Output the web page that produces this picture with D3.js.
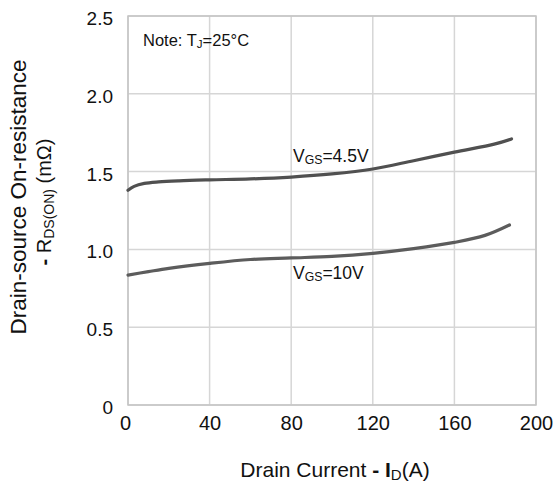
<!DOCTYPE html>
<html>
<head>
<meta charset="utf-8">
<script src="https://cdn.jsdelivr.net/npm/d3@7"></script>
<style>
  body { margin: 0; background: #fff; }
  text { font-family: "Liberation Sans", Arial, sans-serif; fill: #111; }
</style>
</head>
<body>
<div class="chart-container"></div>
<script>
const width = 556;
const height = 486;
const margin = {top: 16, right: 20, bottom: 81, left: 128};

// Drain current (A) vs on-resistance (mOhm)
const currentVgs45 = [0, 3, 8, 15, 25, 40, 60, 80, 100, 120, 140, 160, 180, 188];
const rdsVgs45 = [1.38, 1.405, 1.424, 1.434, 1.441, 1.447, 1.453, 1.465, 1.485, 1.517, 1.57, 1.625, 1.678, 1.71];
const currentVgs10 = [0, 10, 20, 40, 60, 80, 100, 120, 140, 160, 175, 187];
const rdsVgs10 = [0.835, 0.857, 0.878, 0.91, 0.935, 0.945, 0.955, 0.975, 1.005, 1.045, 1.09, 1.157];
const xTicks = [0, 40, 80, 120, 160, 200];
const yTicks = [0, 0.5, 1.0, 1.5, 2.0, 2.5];

const svg = d3.select('.chart-container')
  .append('svg')
  .attr('width', width)
  .attr('height', height);

const x = d3.scaleLinear()
  .domain([0, 200])
  .range([margin.left, width - margin.right]);

const y = d3.scaleLinear()
  .domain([0, 2.5])
  .range([height - margin.bottom, margin.top]);

// Grid lines
svg.append('g')
  .selectAll('line')
  .data(xTicks)
  .enter()
  .append('line')
  .attr('x1', d => x(d)).attr('x2', d => x(d))
  .attr('y1', y(0)).attr('y2', y(2.5))
  .attr('stroke', '#d6d6d6')
  .attr('stroke-width', 1.5);

svg.append('g')
  .selectAll('line')
  .data(yTicks)
  .enter()
  .append('line')
  .attr('x1', x(0)).attr('x2', x(200))
  .attr('y1', d => y(d)).attr('y2', d => y(d))
  .attr('stroke', '#d6d6d6')
  .attr('stroke-width', 1.5);

// Frame
svg.append('rect')
  .attr('x', x(0)).attr('y', y(2.5))
  .attr('width', x(200) - x(0))
  .attr('height', y(0) - y(2.5))
  .attr('fill', 'none')
  .attr('stroke', '#c4c4c4')
  .attr('stroke-width', 1.5);

// Axes (labels only)
const xAxis = svg.append('g')
  .attr('transform', `translate(0,${y(0)})`)
  .call(d3.axisBottom(x).tickValues(xTicks).tickSize(0).tickPadding(11).tickFormat(d3.format('d')));
xAxis.select('.domain').remove();
xAxis.selectAll('text').attr('font-size', 20).attr('font-family', '"Liberation Sans", Arial, sans-serif').attr('fill', '#111');
xAxis.selectAll('.tick').filter(d => d === 0).select('text').attr('dx', -3);

const yAxis = svg.append('g')
  .attr('transform', `translate(${x(0)},0)`)
  .call(d3.axisLeft(y).tickValues(yTicks).tickSize(0).tickPadding(15).tickFormat(d => d === 0 ? '0' : d3.format('.1f')(d)));
yAxis.select('.domain').remove();
yAxis.selectAll('text').attr('font-size', 19).attr('dy', '0.45em').attr('font-family', '"Liberation Sans", Arial, sans-serif').attr('fill', '#111');

// Curves
const line = d3.line()
  .x(d => x(d[0]))
  .y(d => y(d[1]))
  .curve(d3.curveCatmullRom.alpha(0.5));

svg.append('path')
  .datum(d3.zip(currentVgs45, rdsVgs45))
  .attr('d', line)
  .attr('fill', 'none')
  .attr('stroke', '#505050')
  .attr('stroke-width', 3.2)
  .attr('stroke-linecap', 'round');

svg.append('path')
  .datum(d3.zip(currentVgs10, rdsVgs10))
  .attr('d', line)
  .attr('fill', 'none')
  .attr('stroke', '#5c5c5c')
  .attr('stroke-width', 3.2)
  .attr('stroke-linecap', 'round');

// Labels with subscripts
function subLabel(px, py, main, sub, rest, size) {
  const t = svg.append('text')
    .attr('x', px).attr('y', py)
    .attr('font-size', size);
  t.append('tspan').text(main);
  t.append('tspan').attr('font-size', size * 0.7).attr('dy', size * 0.12).text(sub);
  t.append('tspan').attr('dy', -size * 0.12).text(rest);
  return t;
}

subLabel(293, 162, 'V', 'GS', '=4.5V', 17.5);
subLabel(293, 279, 'V', 'GS', '=10V', 17.5);
subLabel(143, 46, 'Note: T', 'J', '=25°C', 16.5);

// Y title
const yTitle = svg.append('g')
  .attr('transform', `translate(0,197) rotate(-90)`);
yTitle.append('text')
  .attr('x', 0).attr('y', 26)
  .attr('text-anchor', 'middle')
  .attr('font-size', 22.5)
  .text('Drain-source On-resistance');
const yt2 = yTitle.append('text')
  .attr('x', -5).attr('y', 51)
  .attr('text-anchor', 'middle')
  .attr('font-size', 20);
yt2.append('tspan').attr('font-weight', 'bold').text('- ');
yt2.append('tspan').text('R');
yt2.append('tspan').attr('font-size', 14).attr('dy', 3).text('DS(ON)');
yt2.append('tspan').attr('dy', -3).text(' (mΩ)');

// X title
const xt = svg.append('text')
  .attr('x', 335).attr('y', 477)
  .attr('text-anchor', 'middle')
  .attr('font-size', 21);
xt.append('tspan').text('Drain Current ');
xt.append('tspan').attr('font-weight', 'bold').text('- I');
xt.append('tspan').attr('font-size', 15).attr('dy', 3).text('D');
xt.append('tspan').attr('dy', -3).text('(A)');
</script>
</body>
</html>
